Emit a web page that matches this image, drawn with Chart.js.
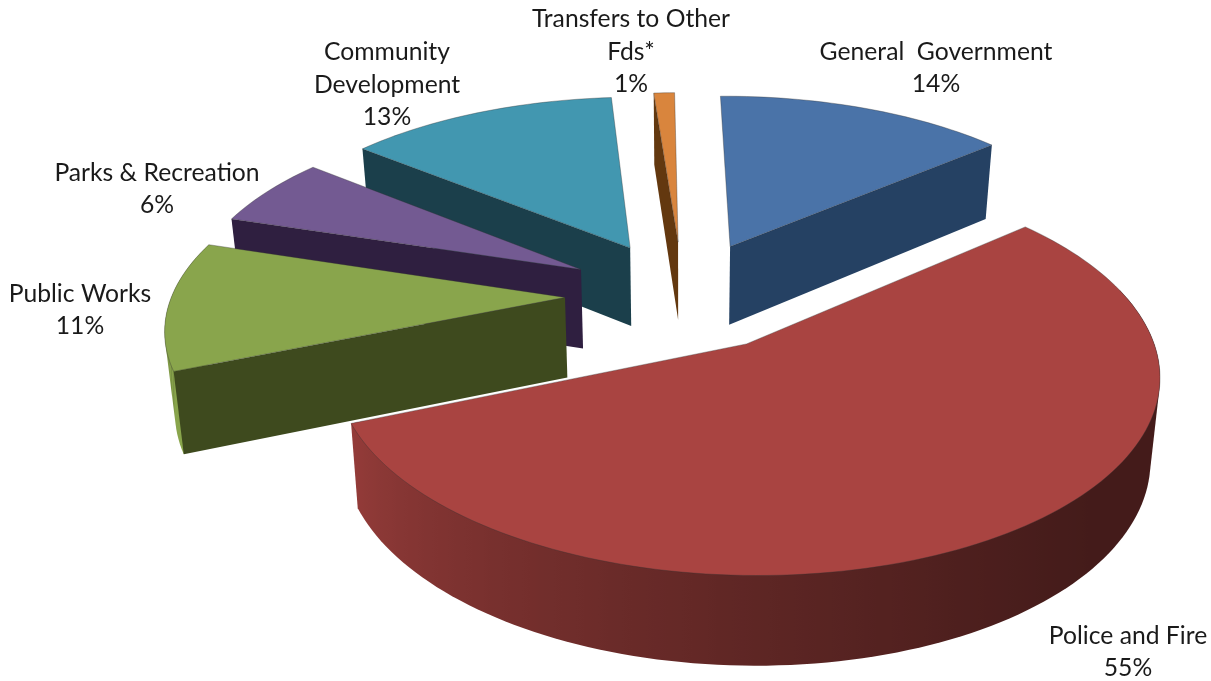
<!DOCTYPE html>
<html>
<head>
<meta charset="utf-8">
<style>
  html, body { margin: 0; padding: 0; background: #fff; }
  #wrap { position: relative; width: 1211px; height: 681px; }
</style>
<script src="https://cdn.jsdelivr.net/npm/chart.js@4"></script>
</head>
<body>
<div id="wrap"><canvas id="chart" width="1211" height="681"></canvas></div>
<script>
// Budget shares, percent of total, clockwise from twelve o'clock.
const categories = ["General  Government", "Police and Fire", "Public Works", "Parks & Recreation", "Community Development", "Transfers to Other Fds*"];
const shares = [14, 55, 11, 6, 13, 1];
const labelLines = [["General  Government"], ["Police and Fire"], ["Public Works"], ["Parks & Recreation"], ["Community", "Development"], ["Transfers to Other", "Fds*"]];

const topColors = ["#4A73A8", "#A94441", "#89A54C", "#735A92", "#4297B0", "#D9853D"];
const wallColors = ["#254163", "#451A18", "#3E4A1E", "#2F1F40", "#1B3F4B", "#63380F"];

// Centre of each label block on the page; line pitch is shared.
const labelCentres = [[936, 68], [1128, 652], [80, 310], [157, 189], [387, 85], [631, 52]];
const linePitch = 32.5;

// Tilted, receding view of the pie's unit disc.
const view = { cx: 683, cy: 295, a: 393, b: 184, p: 0.14, depth: 80, q: 0.09, foot: 0.98, explode: 0.3, rotation: -0.7 };

const project = (X, Y) => {
  const w = 1 + view.p * Y;
  return { x: view.cx + view.a * X / w, y: view.cy - view.b * Y / w };
};
const drop = (X, Y) => {
  const t = project(X, Y);
  return { x: view.cx + (t.x - view.cx) * view.foot, y: t.y + view.depth / (1 + view.q * Y) };
};

const hexToRgb = h => [1, 3, 5].map(i => parseInt(h.slice(i, i + 2), 16));

// Rim shading: light from the left, falling off toward the lower right.
function rimColor(hex, theta) {
  const deg = theta * 180 / Math.PI;
  const t = Math.max(0, Math.min(1, (deg - 130) / 140));
  const k = 0.40 + 0.6 * Math.pow(t, 1.3);
  const [r, g, b] = hexToRgb(hex);
  return `rgb(${Math.round(r * k)},${Math.round(g * k)},${Math.round(b * k)})`;
}

function fillPoly(ctx, pts, fill) {
  ctx.beginPath();
  pts.forEach((p, i) => i ? ctx.lineTo(p.x, p.y) : ctx.moveTo(p.x, p.y));
  ctx.closePath();
  ctx.fillStyle = fill;
  ctx.fill();
}

// Monotone-chain hull: gives the extruded rim its straight silhouette tangents.
function hull(points) {
  const pts = points.slice().sort((m, n) => m.x - n.x || m.y - n.y);
  const cross = (o, m, n) => (m.x - o.x) * (n.y - o.y) - (m.y - o.y) * (n.x - o.x);
  const chain = list => {
    const out = [];
    list.forEach(p => {
      while (out.length > 1 && cross(out[out.length - 2], out[out.length - 1], p) <= 0) out.pop();
      out.push(p);
    });
    out.pop();
    return out;
  };
  return chain(pts).concat(chain(pts.slice().reverse()));
}

function drawWedge(ctx, arc, index) {
  const a0 = arc.startAngle + Math.PI / 2;
  const a1 = arc.endAngle + Math.PI / 2;
  const mid = (a0 + a1) / 2;
  const ox = view.explode * Math.sin(mid);
  const oy = view.explode * Math.cos(mid);
  const steps = Math.max(4, Math.ceil((a1 - a0) / (Math.PI / 120)));
  const rim = [];
  for (let i = 0; i <= steps; i++) {
    const th = a0 + (a1 - a0) * i / steps;
    rim.push({ th, X: ox + Math.sin(th), Y: oy + Math.cos(th) });
  }
  const first = rim[0], last = rim[steps];
  const apex = project(ox, oy);

  // Outer rim on the near half, shaded across its width; the part past the
  // silhouette ends up under the top face.
  const near = rim.filter(e => Math.cos(e.th) < 0.3);
  if (near.length > 1) {
    const tops = near.map(e => project(e.X, e.Y));
    const feet = near.map(e => drop(e.X, e.Y));
    const xs = tops.map(p => p.x);
    const minX = Math.min(...xs), maxX = Math.max(...xs);
    const grad = ctx.createLinearGradient(minX, 0, maxX, 0);
    near.forEach((e, i) => grad.addColorStop((xs[i] - minX) / (maxX - minX), rimColor(topColors[index], e.th)));
    fillPoly(ctx, hull(tops.concat(feet)), grad);
  }

  // Cut faces: only the side turned toward the viewer shows.
  const sideSpan = e => project(e.X, e.Y).x - apex.x;
  if (sideSpan(first) < -20) {
    fillPoly(ctx, [apex, project(first.X, first.Y), drop(first.X, first.Y), drop(ox, oy)], wallColors[index]);
  }
  if (sideSpan(last) > 20) {
    fillPoly(ctx, [apex, project(last.X, last.Y), drop(last.X, last.Y), drop(ox, oy)], wallColors[index]);
  }

  // Top face with its thin outline.
  ctx.beginPath();
  ctx.moveTo(apex.x, apex.y);
  rim.forEach(e => { const p = project(e.X, e.Y); ctx.lineTo(p.x, p.y); });
  ctx.closePath();
  ctx.fillStyle = topColors[index];
  ctx.fill();
  ctx.strokeStyle = "rgba(50,50,50,0.35)";
  ctx.lineWidth = 1;
  ctx.stroke();
}

const tiltedPie = {
  id: "tiltedPie",
  beforeDatasetDraw(chart, args) {
    const ctx = chart.ctx;
    const arcs = chart.getDatasetMeta(args.index).data;
    // Paint far wedges first so nearer ones overlap them.
    const order = arcs.map((arc, i) => {
      const mid = (arc.startAngle + arc.endAngle) / 2 + Math.PI / 2;
      return { arc, i, key: Math.cos(mid) };
    }).sort((m, n) => n.key - m.key);
    ctx.save();
    ctx.lineJoin = "round";
    order.forEach(o => drawWedge(ctx, o.arc, o.i));
    ctx.restore();
    return false;
  },
  afterDatasetsDraw(chart) {
    const ctx = chart.ctx;
    ctx.save();
    ctx.fillStyle = "#1a1a1a";
    ctx.font = "24.7px Lato, 'Open Sans', sans-serif";
    ctx.textAlign = "center";
    ctx.textBaseline = "middle";
    shares.forEach((v, i) => {
      const lines = labelLines[i].concat(v + "%");
      const [x, y] = labelCentres[i];
      lines.forEach((t, k) => ctx.fillText(t, x, y + (k - (lines.length - 1) / 2) * linePitch));
    });
    ctx.restore();
  }
};

new Chart(document.getElementById("chart"), {
  type: "pie",
  data: { labels: categories, datasets: [{ data: shares, backgroundColor: topColors, borderWidth: 0 }] },
  options: {
    responsive: false,
    animation: false,
    rotation: view.rotation,
    plugins: { legend: { display: false }, tooltip: { enabled: false } }
  },
  plugins: [tiltedPie]
});
</script>
</body>
</html>
